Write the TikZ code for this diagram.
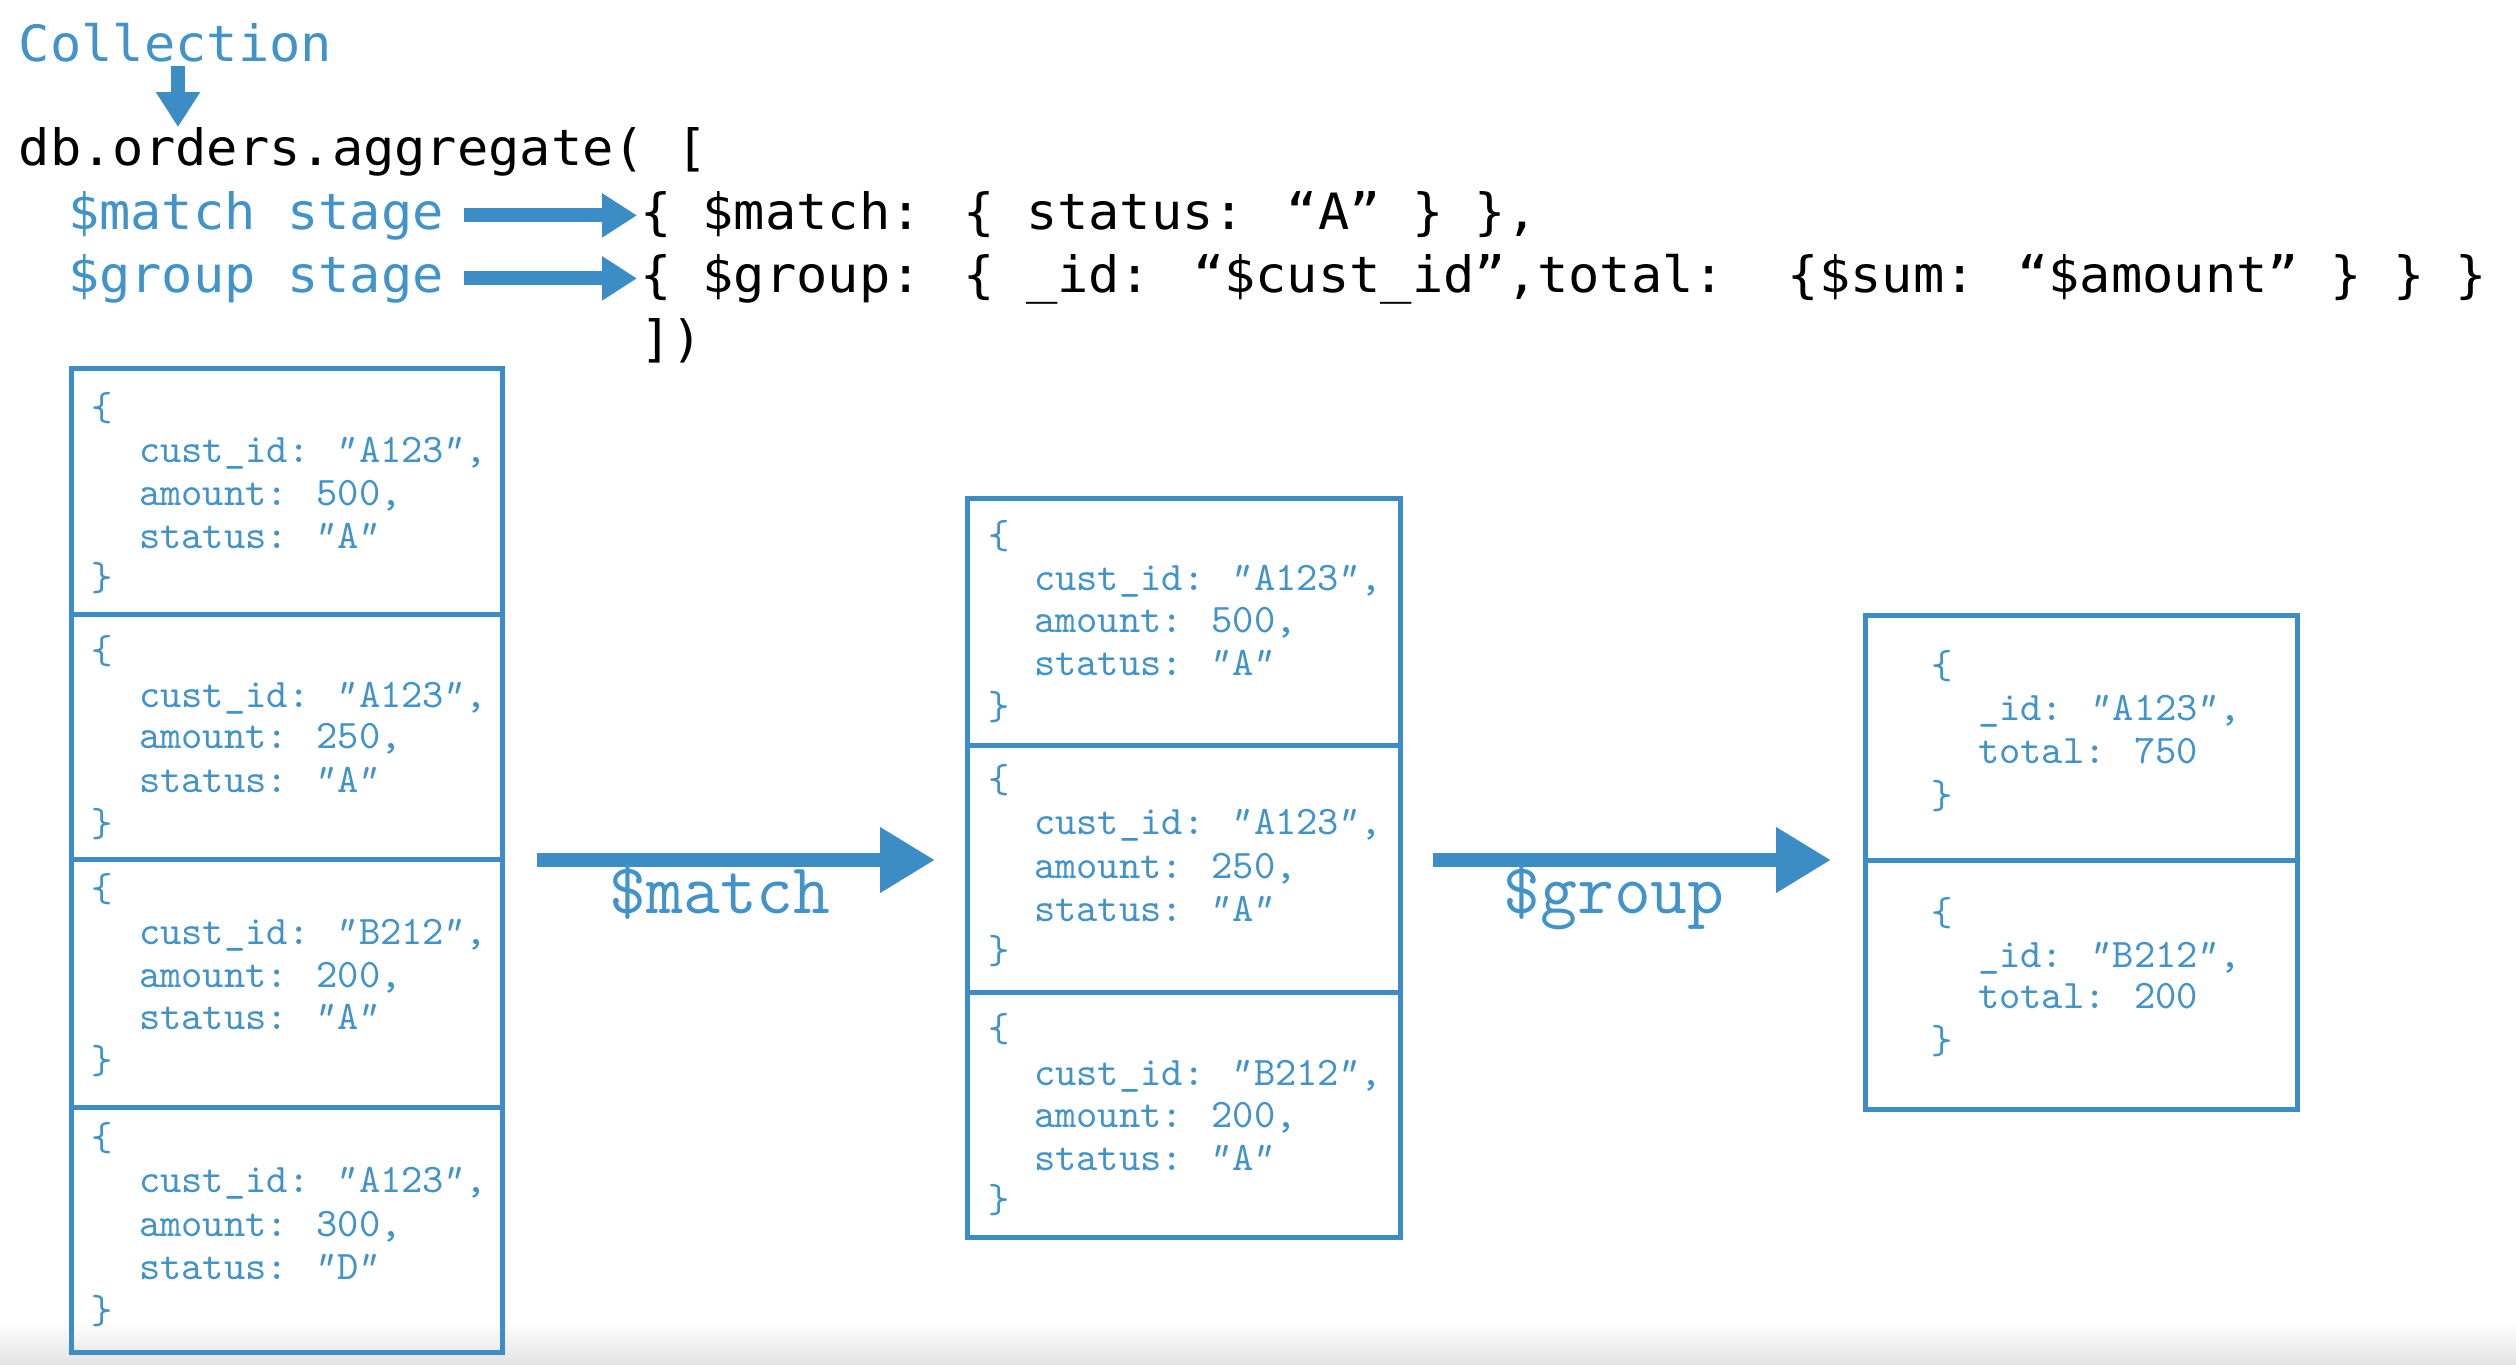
\documentclass[tikz,border=0pt]{standalone}
\usepackage{fontspec}
\newfontfamily\hdrfont[FakeStretch=1.04]{DejaVu Sans Mono}
\usetikzlibrary{arrows.meta,calc}
\definecolor{mblue}{RGB}{60,141,197}
\definecolor{tblue}{RGB}{66,147,201}
\newcommand\docline[4]{\node[doctxt] (#1) at (#2,#3) {#4};}
\newcommand\myq{{\itshape\kern-0.12em"\kern0.12em}}
\begin{document}
\begin{tikzpicture}[x=0.25pt,y=-0.25pt,
 txt/.style={inner sep=0pt,outer sep=0pt,anchor=base west},
 hdr/.style={txt,font=\hdrfont\fontsize{12.5pt}{15pt}\selectfont},
 code/.style={hdr,text=black},
 lbl/.style={hdr,text=tblue},
 doctxt/.style={txt,text=tblue,font=\ttfamily\fontsize{10.14pt}{12pt}\selectfont},
 biglbl/.style={inner sep=0pt,outer sep=0pt,anchor=base,text=tblue,font=\ttfamily\fontsize{17.9pt}{20pt}\selectfont},
 docbox/.style={draw=mblue,line width=1.25pt,inner sep=0pt,outer sep=0pt,rectangle},
 divider/.style={draw=mblue,line width=1.25pt},
 harrow/.style={draw=mblue,line width=3.5pt,-{Triangle[length=8.75pt,width=10.5pt]}},
 bigarrow/.style={draw=mblue,line width=3.5pt,-{Triangle[length=13.75pt,width=15.5pt]}},
]
\useasboundingbox (0,0) rectangle (2516,1364);
\fill[white] (0,0) rectangle (2516,1364);
\shade[top color=white,bottom color=black!11] (0,1320) rectangle (2516,1364);

% header
\node[lbl] (coll) at (19,61) {Collection};
\node[code] (db) at (19,165) {db.orders.aggregate( [};
\node[lbl] (ms) at (68,229) {\$match stage};
\node[lbl] (gs) at (68,292) {\$group stage};
\node[code] (mc) at (640,229) {\{ \$match: \{ status: “A” \} \},};
\node[code] (gc) at (640,292) {\{ \$group: \{ \_id: “\$cust\_id”,total:\ \ \{\$sum: “\$amount” \} \} \}};
\node[code] (endc) at (640,356) {])};

\coordinate (cx) at (178,66);
\draw[harrow] (cx) -- (cx |- db.north);
\draw[harrow] ($(ms.east)+(20,0)$) -- ($(ms.east -| mc.west)+(-3,0)$);
\draw[harrow] ($(gs.east)+(20,0)$) -- ($(gs.east -| gc.west)+(-3,0)$);

% boxes
\node[docbox,minimum width=107.75pt,minimum height=246pt] (L) at (286.5,860) {};
\draw[divider] (71,614) -- (502,614);
\draw[divider] (71,859) -- (502,859);
\draw[divider] (71,1107) -- (502,1107);

\node[docbox,minimum width=108.25pt,minimum height=184.75pt] (M) at (1183.5,867.5) {};
\draw[divider] (967,745) -- (1400,745);
\draw[divider] (967,992) -- (1400,992);

\node[docbox,minimum width=108pt,minimum height=123.5pt] (R) at (2081,862) {};
\draw[divider] (1865,860) -- (2297,860);

% stage arrows
\draw[bigarrow] ($(L.east)+(35,0)$) -- ($(L.east -| M.west)+(-32,0)$);
\draw[bigarrow] ($(L.east -| M.east)+(33,0)$) -- ($(L.east -| R.west)+(-34,0)$);
\node[biglbl] (lm) at (720,913) {\$match};
\node[biglbl] (lg) at (1614,913) {\$group};

% left documents
\docline{l1a}{92}{420}{\{}
\docline{l1b}{139}{462}{cust\_id: \myq A123\myq,}
\docline{l1c}{139}{505}{amount: 500,}
\docline{l1d}{139}{548}{status: \myq A\myq}
\docline{l1e}{92}{590}{\}}
\docline{l2a}{92}{663}{\{}
\docline{l2b}{139}{707}{cust\_id: \myq A123\myq,}
\docline{l2c}{139}{748}{amount: 250,}
\docline{l2d}{139}{792}{status: \myq A\myq}
\docline{l2e}{92}{836}{\}}
\docline{l3a}{92}{901}{\{}
\docline{l3b}{139}{944}{cust\_id: \myq B212\myq,}
\docline{l3c}{139}{987}{amount: 200,}
\docline{l3d}{139}{1029}{status: \myq A\myq}
\docline{l3e}{92}{1073}{\}}
\docline{l4a}{92}{1150}{\{}
\docline{l4b}{139}{1192}{cust\_id: \myq A123\myq,}
\docline{l4c}{139}{1236}{amount: 300,}
\docline{l4d}{139}{1279}{status: \myq D\myq}
\docline{l4e}{92}{1323}{\}}

% middle documents
\docline{m1a}{988}{548}{\{}
\docline{m1b}{1034}{590}{cust\_id: \myq A123\myq,}
\docline{m1c}{1034}{632}{amount: 500,}
\docline{m1d}{1034}{675}{status: \myq A\myq}
\docline{m1e}{988}{719}{\}}
\docline{m2a}{988}{792}{\{}
\docline{m2b}{1034}{834}{cust\_id: \myq A123\myq,}
\docline{m2c}{1034}{878}{amount: 250,}
\docline{m2d}{1034}{921}{status: \myq A\myq}
\docline{m2e}{988}{963}{\}}
\docline{m3a}{988}{1041}{\{}
\docline{m3b}{1034}{1085}{cust\_id: \myq B212\myq,}
\docline{m3c}{1034}{1127}{amount: 200,}
\docline{m3d}{1034}{1170}{status: \myq A\myq}
\docline{m3e}{988}{1212}{\}}

% right documents
\docline{r1a}{1931}{678}{\{}
\docline{r1b}{1978}{720}{\_id: \myq A123\myq,}
\docline{r1c}{1978}{763}{total: 750}
\docline{r1d}{1931}{808}{\}}
\docline{r2a}{1931}{925}{\{}
\docline{r2b}{1978}{967}{\_id: \myq B212\myq,}
\docline{r2c}{1978}{1008}{total: 200}
\docline{r2d}{1931}{1053}{\}}
\end{tikzpicture}
\end{document}
